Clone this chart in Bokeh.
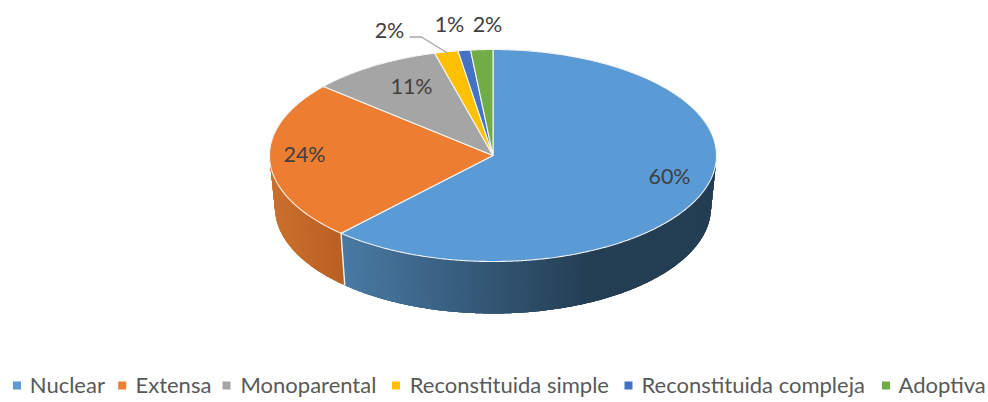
import numpy as np
from bokeh.plotting import figure
from bokeh.models import Range1d
from bokeh.core.properties import value
from bokeh.embed import file_html
from bokeh.resources import INLINE

categories = ["Nuclear", "Extensa", "Monoparental", "Reconstituida simple", "Reconstituida compleja", "Adoptiva"]
labels = ["60%", "24%", "11%", "2%", "1%", "2%"]
# slice shares as they appear on the picture
shares = [61.9, 24.4, 9.5, 1.7, 0.9, 1.6]
colors = ["#5B9BD5", "#ED7D31", "#A5A5A5", "#FFC000", "#4472C4", "#70AD47"]

W, H = 988, 402
CX, CY, RX, RY = 492.5, 155.0, 223.5, 106.0
BCX, BCY, BRX, BRY = 492.5, 207.0, 218.0, 106.0

p = figure(width=W, height=H, x_range=Range1d(0, W), y_range=Range1d(H, 0),
           output_backend="svg", toolbar_location=None, min_border=0, outline_line_color=None,
           background_fill_color="white", border_fill_color="white")
p.axis.visible = False
p.grid.visible = False

ends = np.cumsum(shares) / np.sum(shares) * 2 * np.pi
starts = np.concatenate([[0], ends[:-1]])

def top(t):
    return CX + RX * np.sin(t), CY - RY * np.cos(t)

def bot(t):
    return BCX + BRX * np.sin(t), BCY - BRY * np.cos(t)

def lerp(a, b, f):
    return "#%02x%02x%02x" % tuple(int(round(a[i] + (b[i] - a[i]) * f)) for i in range(3))

def wall_color(i, x):
    if i == 0:
        f = min(1, max(0, (x - 342) / (590 - 342)))
        return lerp((73, 122, 163), (36, 62, 84), f)
    f = min(1, max(0, (x - 270) / 70))
    return lerp((204, 112, 46), (186, 96, 36), f)

# side wall: overlapping strips painted in order, so no seams show
xs, ys, cs = [], [], []
for i in range(2):
    a, b = max(starts[i], np.pi / 2), min(ends[i], 3 * np.pi / 2)
    edges = np.linspace(a, b, int((b - a) / np.radians(0.5)) + 2)
    for k in range(len(edges) - 1):
        t0 = edges[k]
        t1 = edges[min(k + 4, len(edges) - 1)]
        tt = np.linspace(t0, t1, 5)
        xt, yt = top(tt); xb, yb = bot(tt[::-1])
        xs.append(list(xt) + list(xb)); ys.append(list(yt) + list(yb))
        cs.append(wall_color(i, top(t0)[0]))
p.patches(xs, ys, fill_color=cs, line_color=None)

# seam between the two visible walls
t = ends[0]
x0, y0 = top(t); x1, y1 = bot(t)
p.line([x0, x1], [y0, y1], line_color="#f2f2f2", line_width=1.4)

# top face
xs, ys = [], []
for s, e in zip(starts, ends):
    a = np.linspace(s, e, max(3, int((e - s) / np.radians(0.5))))
    x, y = top(a)
    xs.append([CX] + list(x)); ys.append([CY] + list(y))
p.patches(xs, ys, fill_color=colors, line_color="#f4f4f4", line_width=1.1)

# leader line
p.line([409, 421, 447], [36.5, 36.5, 52.5], line_color="#A6A6A6", line_width=1.3)

# data labels
lx = [669, 304, 411, 389, 449, 487]
ly = [175, 153, 85, 29, 23.5, 23.5]
p.text(lx, ly, text=labels, text_font=value("Lato"), text_font_size="21.5px",
       text_color="#404040", text_align="center", text_baseline="middle")

# legend
sx = [16.5, 121.7, 226, 395.5, 628, 885.5]
tx = [29.3, 135, 240, 409.3, 641, 898]
p.scatter(sx, [385] * 6, marker="square", size=8, fill_color=colors, line_color=None)
p.text(tx, [383.5] * 6, text=categories, text_font=value("Lato"), text_font_size="22px",
       text_color="#595959", text_align="left", text_baseline="middle")

open("out.html", "w").write(file_html(p, INLINE))
